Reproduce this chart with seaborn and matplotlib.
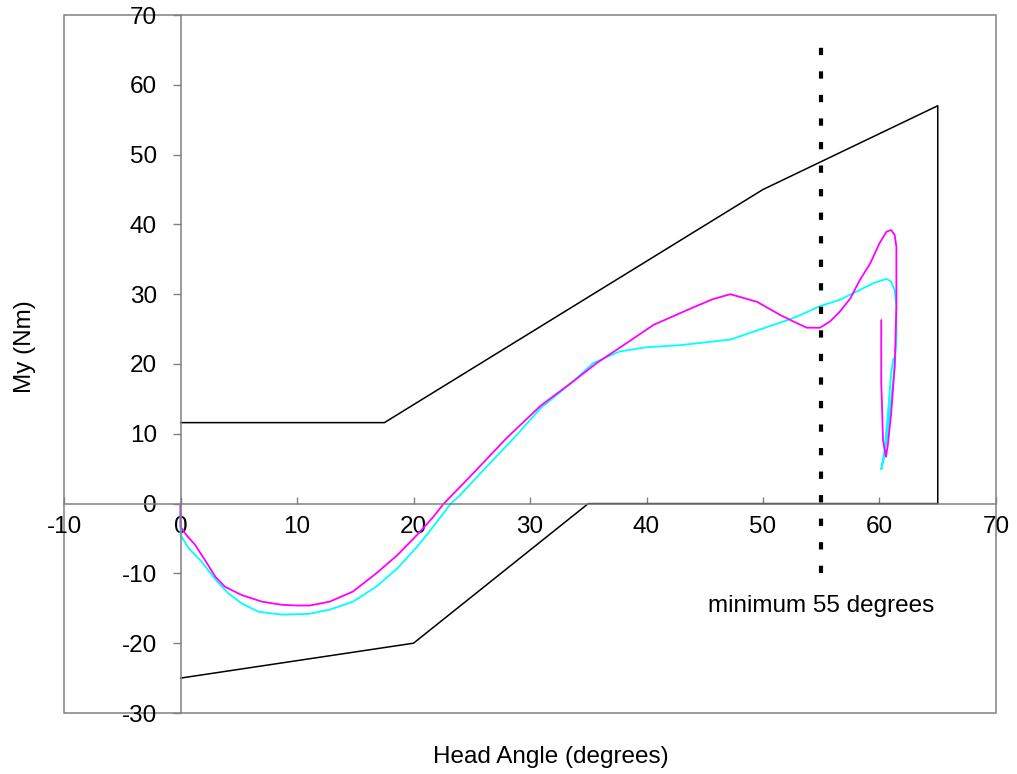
import matplotlib
matplotlib.use("Agg")
import matplotlib.pyplot as plt
import seaborn as sns
from matplotlib.patches import Rectangle

# ---------------- data ----------------
magenta_x = [0, 0, 0.5, 1.25, 2.1, 3.0, 3.8, 5.25, 7.0, 8.7, 10.0, 11.1, 12.8, 14.8, 16.8,
             18.6, 20.3, 21.7, 22.6, 24.0, 25.1, 28.0, 30.9, 33.7, 35.7, 38.3, 40.6, 43.45,
             45.7, 47.2, 49.5, 51.5, 52.6, 53.75, 54.9, 55.75, 56.6, 57.5, 58.3, 59.2, 60.0,
             60.6, 61.0, 61.3, 61.45, 61.45, 61.3, 61.0, 60.7, 60.55, 60.3, 60.2, 60.15, 60.15]
magenta_y = [0, -3.3, -4.5, -5.9, -8.1, -10.5, -11.9, -13.1, -14.05, -14.5, -14.6, -14.6,
             -14.05, -12.6, -10.0, -7.4, -4.5, -1.9, 0, 2.4, 4.3, 9.4, 14.0, 17.5, 20.1, 23.0,
             25.6, 27.7, 29.3, 30.0, 28.9, 27.0, 26.1, 25.2, 25.2, 26.1, 27.5, 29.4, 32.0, 34.4,
             37.3, 38.95, 39.2, 38.5, 36.8, 28.2, 19.6, 12.9, 8.2, 6.7, 9.1, 14.8, 17.2, 26.3]

cyan_x = [0, 0, 0.7, 1.8, 3.0, 4.1, 5.25, 6.7, 8.7, 11.0, 12.8, 14.8, 16.8, 18.6, 20.3, 21.7,
          23.2, 24.0, 26.0, 28.6, 30.9, 33.7, 35.4, 37.7, 40.0, 42.9, 47.2, 50.0, 52.3, 53.2,
          54.9, 56.6, 58.3, 59.5, 60.6, 61.0, 61.3, 61.45, 61.45, 61.3, 61.0, 60.7, 60.4, 60.15,
          60.4, 60.7, 61.0, 61.2]
cyan_y = [0, -4.5, -6.4, -8.3, -10.9, -12.85, -14.3, -15.5, -15.9, -15.8, -15.2, -14.05, -11.9,
          -9.3, -6.2, -3.3, 0, 1.2, 4.8, 9.35, 13.65, 17.5, 20.1, 21.8, 22.4, 22.7, 23.5, 25.1,
          26.4, 27.0, 28.3, 29.2, 30.6, 31.6, 32.2, 31.8, 30.6, 28.2, 23.4, 19.6, 14.8, 10.1, 6.7,
          4.9, 7.2, 12.45, 18.7, 20.8]

corridor_x = [0, 17.5, 50, 65, 65, 35, 20, 0]
corridor_y = [11.6, 11.6, 45, 57, 0, 0, -20, -25]

min_angle_x = [55, 55]
min_angle_y = [-10, 65.7]
min_label = "minimum 55 degrees"
min_label_pos = (55, -14.7)

x_ticks = [-10, 0, 10, 20, 30, 40, 50, 60, 70]
y_ticks = [-30, -20, -10, 0, 10, 20, 30, 40, 50, 60, 70]
x_label = "Head Angle (degrees)"
y_label = "My (Nm)"

# ---------------- style ----------------
sns.set_style("white")
plt.rcParams["font.family"] = ["Liberation Sans", "DejaVu Sans"]
plt.rcParams["text.color"] = "black"
plt.rcParams["axes.labelcolor"] = "black"
plt.rcParams["xtick.labelcolor"] = "black"
plt.rcParams["ytick.labelcolor"] = "black"
FS = 17.5
GRAY = "#808080"

W, H = 1017, 774
fig = plt.figure(figsize=(W / 100, H / 100), dpi=100)
L, R, T, B = 64, 996, 15, 713
ax = fig.add_axes([L / W, 1 - B / H, (R - L) / W, (B - T) / H])

sns.lineplot(x=corridor_x, y=corridor_y, sort=False, estimator=None, color="black",
             linewidth=1.1, ax=ax)
sns.lineplot(x=cyan_x, y=cyan_y, sort=False, estimator=None, color="#00FFFF",
             linewidth=1.3, ax=ax)
sns.lineplot(x=magenta_x, y=magenta_y, sort=False, estimator=None, color="#FF00FF",
             linewidth=1.3, ax=ax)
sns.lineplot(x=min_angle_x, y=min_angle_y, sort=False, estimator=None, color="black",
             linewidth=3.0, linestyle=(0, (1.75, 3.9)), ax=ax)
ax.lines[-1].set_dash_capstyle("butt")
for ln in ax.lines[:3]:
    ln.set_solid_joinstyle("round")

ax.text(min_label_pos[0], min_label_pos[1], min_label, ha="center", va="center",
        fontsize=FS, color="black")

ax.set_xlim(-10, 70)
ax.set_ylim(-30, 70)
ax.set_xticks(x_ticks)
ax.set_yticks(y_ticks)
ax.set_xticklabels([str(v) for v in x_ticks])
ax.set_yticklabels([str(v) for v in y_ticks])

for s in ["top", "right"]:
    ax.spines[s].set_visible(False)
ax.spines["left"].set_position(("data", 0))
ax.spines["bottom"].set_position(("data", 0))
for s in ["left", "bottom"]:
    ax.spines[s].set_color(GRAY)
    ax.spines[s].set_linewidth(1.1)
    ax.spines[s].set_visible(True)
ax.add_patch(Rectangle((0, 0), 1, 1, transform=ax.transAxes, fill=False,
                       edgecolor=GRAY, linewidth=1.1, clip_on=False, zorder=0))

ax.tick_params(axis="y", direction="out", length=6, width=1, color=GRAY, pad=11,
               labelsize=FS, left=True, labelcolor="black")
ax.tick_params(axis="x", direction="in", length=5, width=1, color=GRAY, pad=9,
               labelsize=FS, bottom=True, labelcolor="black")
ax.grid(False)

ax.set_xlabel(x_label, fontsize=FS, color="black")
ax.set_ylabel(y_label, fontsize=FS, color="black")
ax.xaxis.label.set_va("center")
ax.yaxis.label.set_va("center")
ax.xaxis.set_label_coords((551 - L) / (R - L), (B - 757) / (B - T))
ax.yaxis.set_label_coords((25 - L) / (R - L), (B - 347) / (B - T))

fig.savefig("out.png", dpi=100)
